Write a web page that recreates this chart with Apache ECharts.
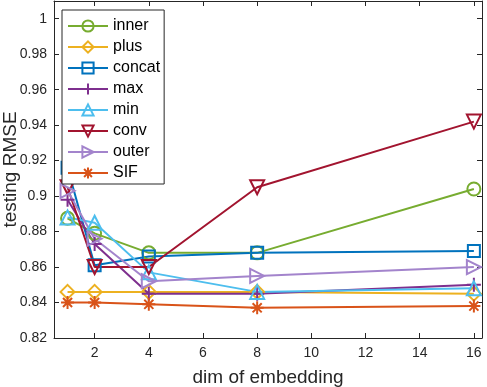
<!DOCTYPE html>
<html>
<head>
<meta charset="utf-8">
<script src="https://cdn.jsdelivr.net/npm/echarts@6/dist/echarts.min.js"></script>
<style>
  html, body { margin: 0; padding: 0; background: #fff; }
  #chart { width: 487px; height: 387px; }
</style>
</head>
<body>
<div id="chart"></div>
<script>
const dims = [1, 2, 4, 8, 16];
const xTicks = [2, 4, 6, 8, 10, 12, 14, 16];
const yTicks = [0.82, 0.84, 0.86, 0.88, 0.9, 0.92, 0.94, 0.96, 0.98, 1];

const names = ["inner", "plus", "concat", "max", "min", "conv", "outer", "SIF"];
const inner = [0.8875, 0.879, 0.868, 0.868, 0.904];
const plus = [0.846, 0.846, 0.846, 0.846, 0.845];
const concat = [0.916, 0.861, 0.866, 0.868, 0.869];
const max = [0.898, 0.873, 0.845, 0.845, 0.850];
const min = [0.888, 0.885, 0.857, 0.846, 0.848];
const conv = [0.905, 0.860, 0.860, 0.905, 0.942];
const outer = [0.903, 0.876, 0.852, 0.855, 0.860];
const sif = [0.840, 0.840, 0.839, 0.837, 0.838];

const COLORS = ["#77AC30", "#EDB120", "#0072BD", "#7E2F8E", "#4DBEEE", "#A2142F", "#A384CC", "#D95319"];
const SYMBOLS = [
  "circle",
  "diamond",
  "rect",
  "path://M0,-10L0,10M-10,0L10,0",
  "triangle",
  "triangle",
  "triangle",
  "path://M0,-10L0,10M-10,0L10,0M-7,-7L7,7M-7,7L7,-7",
];
const ROTATE = [0, 0, 0, 0, 0, 180, -90, 0];
const SIZES = [13, 14, 12, 14, 14, 14, 14, 13];
const values = [inner, plus, concat, max, min, conv, outer, sif];

const FONT = "'Liberation Sans', Arial, Helvetica, sans-serif";
const AXIS_COLOR = "#262626";

const chart = echarts.init(document.getElementById("chart"), null, { renderer: "canvas" });

const series = names.map((name, i) => ({
  name: name,
  type: "line",
  data: dims.map((d, j) => [d, values[i][j]]),
  symbol: SYMBOLS[i],
  symbolSize: SIZES[i],
  symbolRotate: ROTATE[i],
  showAllSymbol: true,
  lineStyle: { color: COLORS[i], width: 2 },
  itemStyle: { color: "rgba(0,0,0,0)", borderColor: COLORS[i], borderWidth: 2 },
  emphasis: { disabled: true },
}));

const option = {
  animation: false,
  backgroundColor: "#fff",
  grid: { left: 54, right: 5, top: 1, bottom: 49, outerBoundsMode: "none", containLabel: false },
  legend: {
    orient: "vertical",
    left: 62,
    top: 10,
    padding: [8, 4, 3, 5],
    itemWidth: 40,
    itemHeight: 14,
    itemGap: 5,
    backgroundColor: "#fff",
    borderColor: AXIS_COLOR,
    borderWidth: 1,
    borderRadius: 0,
    textStyle: { fontFamily: FONT, fontSize: 16, color: "#000" },
    data: names,
  },
  xAxis: [
    {
      type: "value",
      min: 0.5,
      max: 16.3,
      name: "dim of embedding",
      nameLocation: "middle",
      nameGap: 30,
      nameMoveOverlap: false,
      nameTextStyle: { fontFamily: FONT, fontSize: 19, color: AXIS_COLOR },
      splitLine: { show: false },
      axisLine: { lineStyle: { color: AXIS_COLOR, width: 1 } },
      axisTick: { inside: true, length: 5, customValues: xTicks, lineStyle: { color: AXIS_COLOR } },
      axisLabel: { customValues: xTicks, fontFamily: FONT, fontSize: 14, color: AXIS_COLOR, margin: 8 },
    },
    {
      type: "value",
      position: "top",
      min: 0.5,
      max: 16.3,
      splitLine: { show: false },
      axisLine: { lineStyle: { color: AXIS_COLOR, width: 1 } },
      axisTick: { inside: true, length: 5, customValues: xTicks, lineStyle: { color: AXIS_COLOR } },
      axisLabel: { show: false },
    },
  ],
  yAxis: [
    {
      type: "value",
      min: 0.82,
      max: 1.01,
      name: "testing RMSE",
      nameLocation: "middle",
      nameGap: 34,
      nameMoveOverlap: false,
      nameTextStyle: { fontFamily: FONT, fontSize: 19, color: AXIS_COLOR },
      splitLine: { show: false },
      axisLine: { lineStyle: { color: AXIS_COLOR, width: 1 } },
      axisTick: { inside: true, length: 5, customValues: yTicks, lineStyle: { color: AXIS_COLOR } },
      axisLabel: { customValues: yTicks, fontFamily: FONT, fontSize: 14, color: AXIS_COLOR, margin: 7 },
    },
    {
      type: "value",
      position: "right",
      min: 0.82,
      max: 1.01,
      splitLine: { show: false },
      axisLine: { lineStyle: { color: AXIS_COLOR, width: 1 } },
      axisTick: { inside: true, length: 5, customValues: yTicks, lineStyle: { color: AXIS_COLOR } },
      axisLabel: { show: false },
    },
  ],
  series: series,
};

chart.setOption(option);
</script>
</body>
</html>
